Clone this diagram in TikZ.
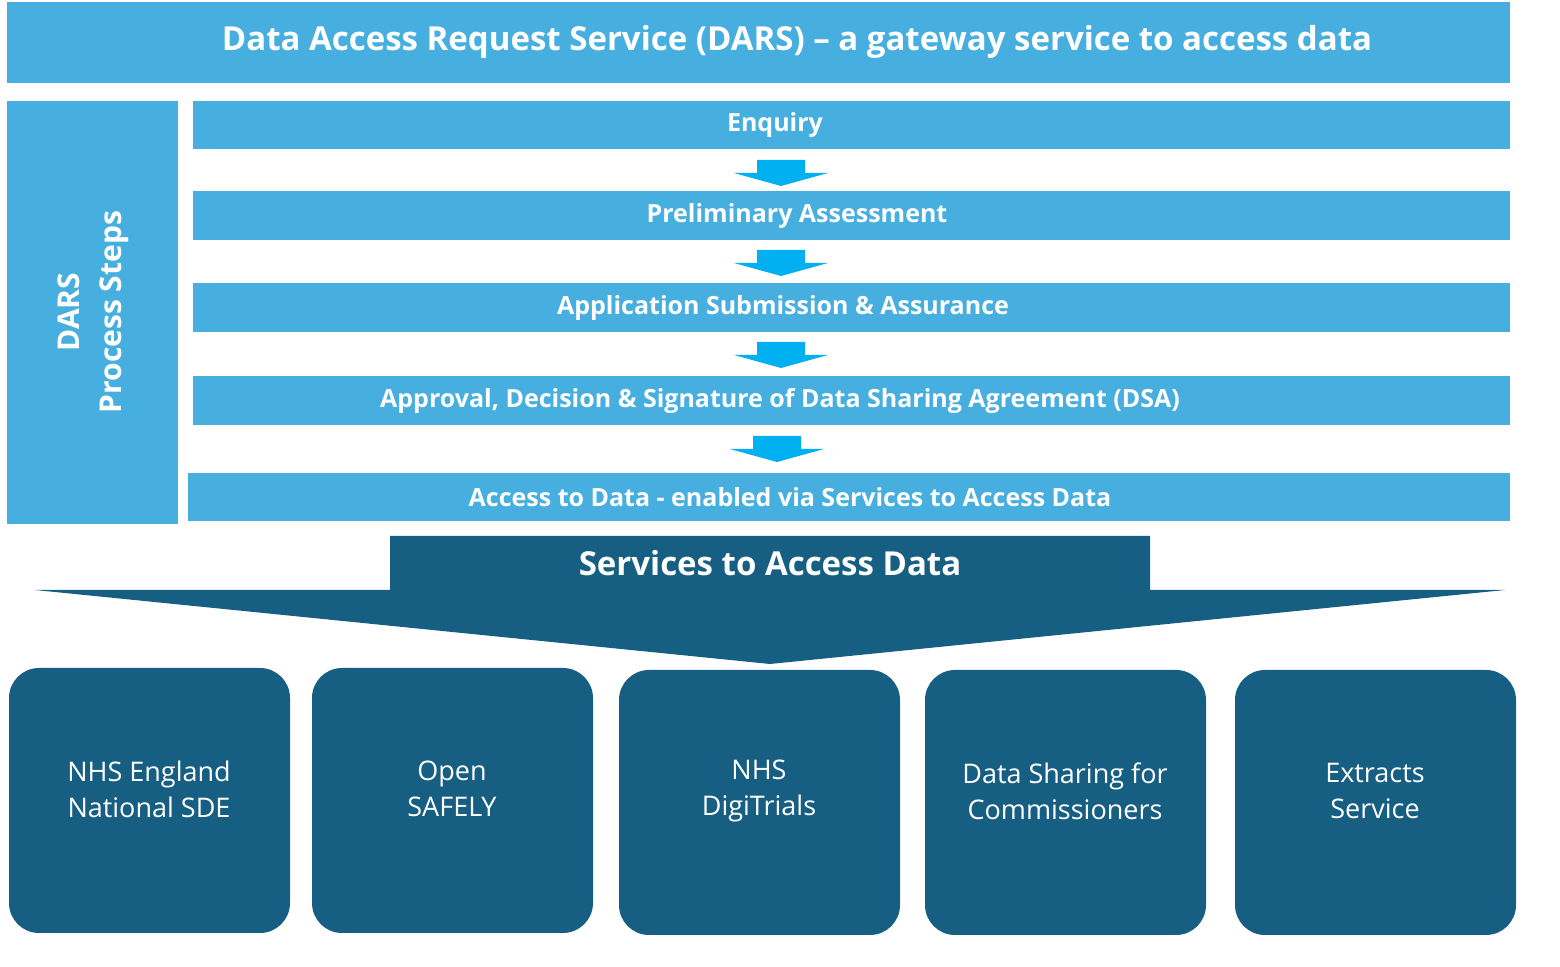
\documentclass[tikz,border=0pt]{standalone}
\usepackage{fontspec}
\setmainfont{Open Sans}
\usetikzlibrary{positioning, calc}
\definecolor{barBlue}{HTML}{47AFE0}
\definecolor{arrowBlue}{HTML}{00B0F0}
\definecolor{darkBlue}{HTML}{175F82}
\tikzset{
  bar/.style={fill=barBlue, inner sep=0pt, anchor=north west},
  bartext/.style={text=white, font=\bfseries\fontsize{12.5}{14}\selectfont},
  service/.style={fill=darkBlue, rounded corners=15pt, text=white, align=center,
    font=\fontsize{13.5}{18}\selectfont},
}
\begin{document}
\begin{tikzpicture}[x=0.5pt, y=-0.5pt]
\useasboundingbox (0,0) rectangle (1560,967);
% header
\fill[barBlue] (7,2) rectangle (1510,83);
\node[text=white, font=\bfseries\fontsize{16.5}{20}\selectfont] (title) at (797,42) {Data Access Request Service (DARS) -- a gateway service to access data};
% side label
\fill[barBlue] (7,101) rectangle (178,524);
\node[rotate=90, text=white, align=center, font=\bfseries\fontsize{15}{21}\selectfont] (side) at (93,312) {DARS\\Process Steps};
% process steps
\fill[barBlue] (193,101) rectangle (1510,149);
\fill[barBlue] (193,191) rectangle (1510,240);
\fill[barBlue] (193,283) rectangle (1510,332);
\fill[barBlue] (193,376) rectangle (1510,425);
\fill[barBlue] (188,473) rectangle (1510,521);
\node[bartext] (enq) at (775,125) {Enquiry};
\node[bartext] (pre) at (797,216) {Preliminary Assessment};
\node[bartext] (app) at (783,308) {Application Submission \& Assurance};
\node[bartext] (dsa) at (780,401) {Approval, Decision \& Signature of Data Sharing Agreement (DSA)};
\node[bartext] (acc) at (790,497) {Access to Data - enabled via Services to Access Data};
% step arrows
\foreach \x/\top in {781/160, 781/250, 781/342, 777/436}
  \fill[arrowBlue] (\x-24,\top) -- (\x+24,\top) -- (\x+24,\top+13) -- (\x+47,\top+13)
    -- (\x,\top+26) -- (\x-47,\top+13) -- (\x-24,\top+13) -- cycle;
% big arrow
\fill[darkBlue] (390,536) -- (1150,536) -- (1150,590) -- (1505,590) -- (770,664)
  -- (35,590) -- (390,590) -- cycle;
\node[text=white, font=\bfseries\fontsize{16.5}{20}\selectfont] (sad) at (770,563) {Services to Access Data};
% services
\node[service, minimum width=140.5pt, minimum height=132.5pt] (sde) at (149.5,800.5) {};
\node[service, minimum width=140.5pt, minimum height=132.5pt] (safe) at (452.5,800.5) {};
\node[service, minimum width=140.5pt, minimum height=132.5pt] (digi) at (759.5,802.5) {};
\node[service, minimum width=140.5pt, minimum height=132.5pt] (dsc) at (1065.5,802.5) {};
\node[service, minimum width=140.5pt, minimum height=132.5pt] (ext) at (1375.5,802.5) {};
\node[service, fill=none] at (149,789) {NHS England\\National SDE};
\node[service, fill=none] at (452,789) {Open\\SAFELY};
\node[service, fill=none] at (759,791) {NHS\\DigiTrials};
\node[service, fill=none] at (1065,791) {Data Sharing for\\Commissioners};
\node[service, fill=none] at (1375,791) {Extracts\\Service};
\end{tikzpicture}
\end{document}
